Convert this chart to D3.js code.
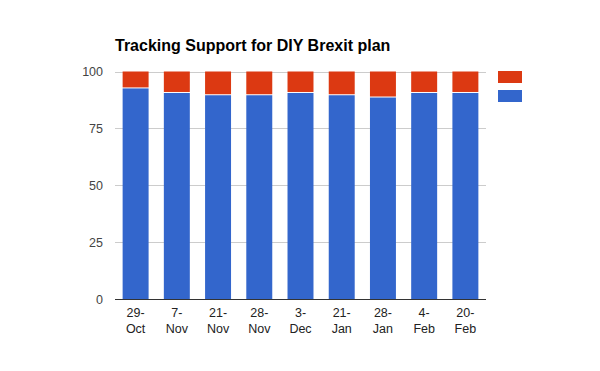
<!DOCTYPE html>
<html>
<head>
<meta charset="utf-8">
<script src="https://cdn.jsdelivr.net/npm/d3@7"></script>
<style>
  body { margin: 0; background: #fff; }
  svg { font-family: "Liberation Sans", Arial, sans-serif; }
</style>
</head>
<body>
<svg id="chart" width="600" height="371"></svg>
<script>
const dates = ["29-Oct", "7-Nov", "21-Nov", "28-Nov", "3-Dec", "21-Jan", "28-Jan", "4-Feb", "20-Feb"];
const support = [93, 91, 90, 90, 91, 90, 89, 91, 91];
const oppose = [7, 9, 10, 10, 9, 10, 11, 9, 9];
const yTicks = [0, 25, 50, 75, 100];
const colors = ["#3366cc", "#dc3912"];

const width = 600, height = 371;
const margin = {top: 71.5, right: 114, bottom: 72, left: 115};

const svg = d3.select("#chart");

const x = d3.scaleBand()
    .domain(dates)
    .range([margin.left, width - margin.right])
    .paddingInner(0.37)
    .paddingOuter(0.185);

const y = d3.scaleLinear()
    .domain([0, 100])
    .range([height - margin.bottom, margin.top]);

// gridlines
svg.append("g")
    .selectAll("line")
    .data(yTicks.filter(d => d > 0))
    .join("line")
    .attr("x1", margin.left)
    .attr("x2", width - margin.right)
    .attr("y1", d => Math.round(y(d)) + 0.5)
    .attr("y2", d => Math.round(y(d)) + 0.5)
    .attr("stroke", "#cccccc");

// y labels
svg.append("g")
    .attr("font-size", 12.5)
    .attr("fill", "#444")
    .attr("text-anchor", "end")
    .selectAll("text")
    .data(yTicks)
    .join("text")
    .attr("x", 103)
    .attr("y", d => y(d) + 4.5)
    .text(d => d);

const rows = dates.map((d, i) => ({date: d, s: support[i], o: oppose[i]}));
const stack = d3.stack().keys(["s", "o"])(rows);

// bars; blue segment drops 1px at its top to leave the white seam
svg.append("g")
    .selectAll("g")
    .data(stack)
    .join("g")
    .attr("fill", (d, i) => colors[i])
    .each(function (series, si) {
        d3.select(this).selectAll("rect")
            .data(series)
            .join("rect")
            .attr("x", d => x(d.data.date))
            .attr("width", x.bandwidth())
            .attr("y", d => y(d[1]) + (si === 0 ? 1 : 0))
            .attr("height", d => y(d[0]) - y(d[1]) - (si === 0 ? 1 : 0));
    });

// baseline
svg.append("line")
    .attr("x1", margin.left)
    .attr("x2", width - margin.right)
    .attr("y1", y(0) + 0.5)
    .attr("y2", y(0) + 0.5)
    .attr("stroke", "#333");

// x labels, two lines
const xl = svg.append("g")
    .attr("font-size", 12.5)
    .attr("fill", "#222")
    .attr("text-anchor", "middle")
    .selectAll("text")
    .data(dates)
    .join("text")
    .attr("x", d => x(d) + x.bandwidth() / 2)
    .attr("y", y(0) + 18);
xl.append("tspan").text(d => d.split("-")[0] + "-");
xl.append("tspan")
    .attr("x", d => x(d) + x.bandwidth() / 2)
    .attr("dy", 16)
    .text(d => d.split("-")[1]);

// title
svg.append("text")
    .attr("x", margin.left)
    .attr("y", 51)
    .attr("font-size", 16)
    .attr("font-weight", "bold")
    .attr("fill", "#000")
    .text("Tracking Support for DIY Brexit plan");

// legend (no labels)
svg.append("g")
    .selectAll("rect")
    .data(colors.slice().reverse())
    .join("rect")
    .attr("x", 498)
    .attr("y", (d, i) => 71 + i * 19)
    .attr("width", 24)
    .attr("height", 12)
    .attr("fill", d => d);
</script>
</body>
</html>
